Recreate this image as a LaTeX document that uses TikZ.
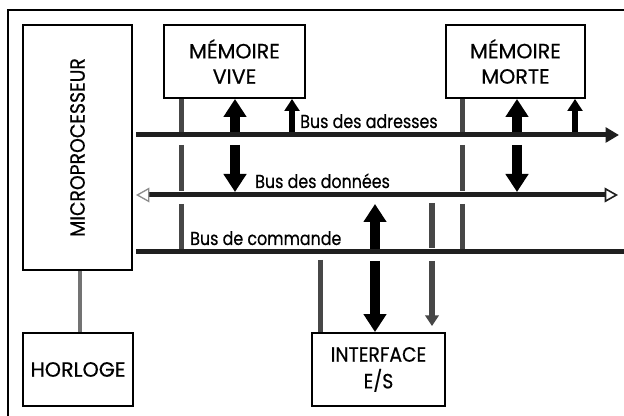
\documentclass[tikz,border=0pt]{standalone}
\usepackage{fontspec}
\setmainfont{Poppins}[FakeBold=0.5]
\newfontfamily\lblfont{Poppins}[FakeStretch=0.85,FakeBold=0.5]
\newfontfamily\narrowfont{Poppins}[FakeStretch=0.91,FakeBold=0.5]
\usetikzlibrary{arrows.meta,calc}
\begin{document}
\begin{tikzpicture}[x=0.75pt,y=-0.75pt,
  box/.style={draw, line width=1.4pt, inner sep=0pt, align=center,
    font=\fontsize{15.5}{19}\selectfont},
  lbl/.style={inner sep=0pt, anchor=base west, font=\lblfont\fontsize{14}{16}\selectfont},
  bus/.style={draw=black!88, line width=3.75pt},
  cmd/.style={draw=black!72, line width=3.75pt},
  big/.style={draw=black, line width=7.5pt, -{Triangle[length=13.5pt,width=16.5pt]}},
  small/.style={draw=black, line width=4.5pt, -{Triangle[length=9pt,width=11pt]}},
  gra/.style={draw=black!72, line width=5pt},
]
\clip (0,0) rectangle (624,416);
% outer frame
\draw[line width=1.4pt] (8,10) rectangle (640,430);
% boxes
\node[box, font=\narrowfont\fontsize{15.5}{19}\selectfont, minimum width=81.75pt, minimum height=183.75pt] (micro) at (77.5,147.5)
  {\rotatebox{90}{MICROPROCESSEUR}};
\node[box, minimum width=82.5pt, minimum height=54.75pt] (horloge) at (78,369.5) {HORLOGE};
\node[box, minimum width=105.75pt, minimum height=54.75pt] (vive) at (234.5,61.5) {MÉMOIRE\\VIVE};
\node[box, minimum width=104.25pt, minimum height=54.75pt] (morte) at (515.5,61.5) {MÉMOIRE\\MORTE};
\node[box, font=\narrowfont\fontsize{15.5}{20}\selectfont, minimum width=99.75pt, minimum height=54.75pt] (iface) at (378.5,369.5) {INTERFACE\\E/S};
% bus coordinates
\coordinate (a0) at (136,135); \coordinate (a1) at (619,135);
\coordinate (d0) at (136,195); \coordinate (d1) at (618,195);
\coordinate (c0) at (136,252); \coordinate (c1) at (640,252);
% x positions
\coordinate (xc) at (80,0);
\coordinate (xv) at (181,0);
\coordinate (xm) at (462,0);
\coordinate (xi) at (320,0);
\coordinate (xva) at (235,0);
\coordinate (xvs) at (292,0);
\coordinate (xma) at (517,0);
\coordinate (xms) at (575,0);
\coordinate (xia) at (375,0);
\coordinate (xg) at (432,0);
% clock link
\draw[draw=black!55, line width=3pt] (micro.south -| xc) -- (horloge.north -| xc);
% grey command lines
\foreach \x in {xv,xm}{
  \draw[cmd] (vive.south -| \x) -- ($(a0 -| \x)+(0,-3)$);
  \draw[cmd] ($(a0 -| \x)+(0,10)$) -- ($(d0 -| \x)+(0,-4)$);
  \draw[cmd] ($(d0 -| \x)+(0,9)$) -- (c0 -| \x);
}
\draw[cmd] ($(c0 -| xi)+(0,8)$) -- (iface.north -| xi);
% buses
\draw[bus, -{Triangle[length=10pt,width=11pt]}] (a0) -- (a1);
\draw[bus, {Triangle[open,length=10pt,width=11pt,line width=1pt,color=black!45]}-{Triangle[open,length=10pt,width=11pt,line width=1.2pt]}] (d0) -- (d1);
\draw[bus] (c0) -- (c1);
% memory arrows
\draw[big] ($(a0 -| xva)+(0,-3)$) -- (vive.south -| xva);
\draw[big] ($(a0 -| xva)+(0,10)$) -- ($(d0 -| xva)+(0,-3)$);
\draw[small] ($(a0 -| xvs)+(0,-3)$) -- (vive.south -| xvs);
\draw[big] ($(a0 -| xma)+(0,-3)$) -- (morte.south -| xma);
\draw[big] ($(a0 -| xma)+(0,10)$) -- ($(d0 -| xma)+(0,-3)$);
\draw[small] ($(a0 -| xms)+(0,-3)$) -- (morte.south -| xms);
% interface arrows
\draw[big] ($(c0 -| xia)+(0,-3)$) -- ($(d0 -| xia)+(0,9)$);
\draw[big] ($(c0 -| xia)+(0,9)$) -- (iface.north -| xia);
\draw[gra] ($(d0 -| xg)+(0,8)$) -- ($(c0 -| xg)+(0,-4)$);
\draw[gra, -{Triangle[length=8pt,width=10pt]}] ($(c0 -| xg)+(0,9)$) -- ($(iface.north -| xg)+(0,-6)$);
% labels
\node[lbl] (la) at (300,128) {Bus des adresses};
\node[lbl] (ld) at (255,188) {Bus des données};
\node[lbl] (lc) at (190,245) {Bus de commande};
\end{tikzpicture}
\end{document}
